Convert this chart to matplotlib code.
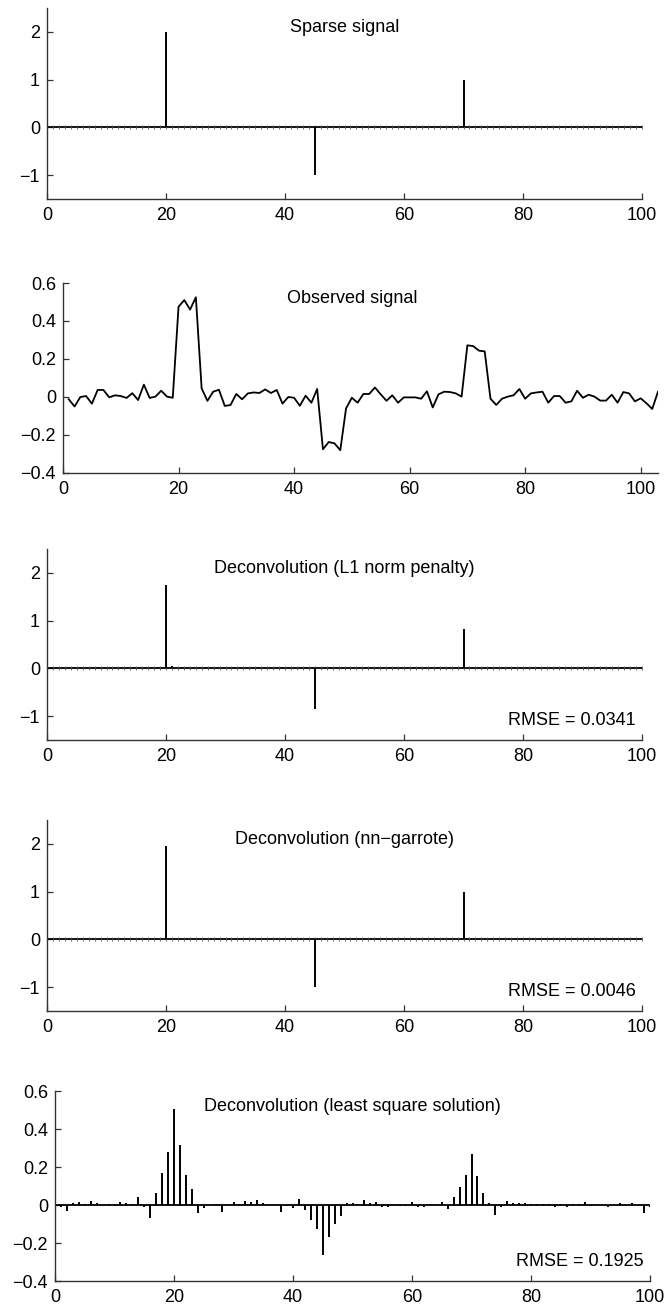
import numpy as np
import matplotlib
matplotlib.use("Agg")
import matplotlib.pyplot as plt

plt.rcParams['font.family'] = ['Liberation Sans', 'DejaVu Sans']

# ---------------- data ----------------
n_sparse = 100
sparse_idx = [20, 45, 70]
sparse_val = [2.0, -1.0, 1.0]

observed = [
    -0.012, -0.05, 0.0, 0.005, -0.035, 0.037, 0.037, -0.002, 0.009, 0.005,
    -0.005, 0.02, -0.016, 0.065, -0.005, 0.002, 0.033, 0.002, -0.004, 0.475,
    0.51, 0.46, 0.525, 0.045, -0.02, 0.028, 0.038, -0.047, -0.042, 0.016,
    -0.012, 0.019, 0.024, 0.021, 0.04, 0.021, 0.037, -0.035, 0.0, -0.004,
    -0.046, 0.007, -0.03, 0.042, -0.275, -0.237, -0.244, -0.28, -0.06, -0.004,
    -0.03, 0.016, 0.016, 0.05, 0.014, -0.02, 0.009, -0.03, -0.002, -0.002,
    -0.002, -0.009, 0.03, -0.055, 0.014, 0.028, 0.026, 0.019, 0.002, 0.272,
    0.268, 0.244, 0.24, -0.009, -0.042, -0.009, 0.002, 0.009, 0.042, -0.009,
    0.019, 0.024, 0.028, -0.03, 0.005, 0.005, -0.03, -0.023, 0.033, -0.004,
    0.012, 0.002, -0.019, -0.019, 0.012, -0.03, 0.026, 0.019, -0.023, -0.007,
    -0.033, -0.063, 0.028,
]

l1_idx = [20, 21, 45, 70]
l1_val = [1.74, 0.04, -0.85, 0.82]
l1_rmse = "RMSE = 0.0341"

garrote_idx = [20, 45, 70]
garrote_val = [1.95, -1.0, 1.0]
garrote_rmse = "RMSE = 0.0046"

lsq = [
    -0.009, -0.03, 0.009, 0.014, 0.004, 0.023, 0.009, -0.002, 0.004, -0.005,
    0.014, 0.009, 0.007, 0.042, -0.009, -0.07, 0.061, 0.167, 0.277, 0.507,
    0.318, 0.158, 0.082, -0.044, -0.016, 0.0, 0.004, -0.035, -0.002, 0.016,
    0.005, 0.021, 0.018, 0.026, 0.009, 0.002, 0.002, -0.035, -0.005, -0.016,
    0.033, -0.028, -0.079, -0.126, -0.263, -0.167, -0.1, -0.06, 0.009, 0.009,
    0.007, 0.026, 0.009, 0.018, -0.009, -0.009, -0.002, -0.003, -0.005, 0.014,
    -0.009, -0.009, 0.007, -0.002, 0.018, -0.023, 0.042, 0.096, 0.156, 0.267,
    0.153, 0.061, 0.009, -0.051, -0.009, 0.023, 0.009, 0.009, 0.012, 0.005,
    0.005, 0.004, 0.004, -0.009, 0.004, -0.009, 0.005, 0.005, 0.016, -0.005,
    0.0, 0.002, -0.012, 0.0, 0.009, 0.0, 0.011, 0.0, -0.044, -0.009,
]
lsq_rmse = "RMSE = 0.1925"

titles = ["Sparse signal", "Observed signal", "Deconvolution (L1 norm penalty)",
          "Deconvolution (nn\u2212garrote)", "Deconvolution (least square solution)"]

big_yticks = [-1, 0, 1, 2]
small_yticks = [-0.4, -0.2, 0, 0.2, 0.4, 0.6]
xticks = [0, 20, 40, 60, 80, 100]

# ---------------- layout ----------------
W, H = 667, 1313
fig = plt.figure(figsize=(W / 100, H / 100), dpi=100)

def ax_at(left, right, top, bottom):
    return fig.add_axes([left / W, 1 - bottom / H, (right - left) / W, (bottom - top) / H])

axes = [
    ax_at(47, 642, 8, 199),
    ax_at(63, 658, 283, 473),
    ax_at(47, 642, 549, 740),
    ax_at(47, 642, 820, 1011),
    ax_at(55, 650, 1091, 1281),
]

FS = 13
SPINE = '#333333'

def style(ax):
    for s in ['top', 'right']:
        ax.spines[s].set_visible(False)
    for s in ['left', 'bottom']:
        ax.spines[s].set_color(SPINE)
        ax.spines[s].set_linewidth(1.0)
    ax.tick_params(direction='in', length=4.5, width=0.9, color=SPINE,
                   labelsize=FS, pad=5)
    ax.tick_params(axis='x', pad=6)

def fmt(v):
    s = ("%g" % v)
    return s.replace('-', '\u2212')

def sparse_panel(ax, idx, val, title, rmse=None):
    xs = np.arange(1, n_sparse + 1)
    # baseline with zero stems texture
    ax.plot([0, n_sparse], [0, 0], color='black', lw=1.3, zorder=2)
    ax.plot(xs, np.zeros(n_sparse), ls='none', marker='|', ms=2.5, mew=0.6,
            color='#555555', zorder=2)
    ax.vlines(idx, 0, val, color='black', lw=1.4, zorder=3)
    ax.set_xlim(0, 100)
    ax.set_ylim(-1.5, 2.5)
    ax.set_xticks(xticks)
    ax.set_xticklabels([fmt(t) for t in xticks])
    ax.set_yticks(big_yticks)
    ax.set_yticklabels([fmt(t) for t in big_yticks])
    ax.text(50, 2.1, title, ha='center', va='center', fontsize=FS)
    if rmse:
        ax.text(99, -1.1, rmse, ha='right', va='center', fontsize=FS)
    style(ax)

sparse_panel(axes[0], sparse_idx, sparse_val, titles[0])

# observed
ax = axes[1]
xo = np.arange(1, len(observed) + 1)
ax.plot(xo, observed, color='black', lw=1.3)
ax.set_xlim(0, len(observed))
ax.set_ylim(-0.4, 0.6)
ax.set_xticks(xticks)
ax.set_xticklabels([fmt(t) for t in xticks])
ax.set_yticks(small_yticks)
ax.set_yticklabels([fmt(t) for t in small_yticks])
ax.text(50, 0.52, titles[1], ha='center', va='center', fontsize=FS)
style(ax)

sparse_panel(axes[2], l1_idx, l1_val, titles[2], l1_rmse)
sparse_panel(axes[3], garrote_idx, garrote_val, titles[3], garrote_rmse)

# least squares
ax = axes[4]
xl = np.arange(1, len(lsq) + 1)
ax.plot([0, 100], [0, 0], color='black', lw=1.3, zorder=2)
ax.vlines(xl, 0, lsq, color='black', lw=1.4, zorder=3)
ax.set_xlim(0, 100)
ax.set_ylim(-0.4, 0.6)
ax.set_xticks(xticks)
ax.set_xticklabels([fmt(t) for t in xticks])
ax.set_yticks(small_yticks)
ax.set_yticklabels([fmt(t) for t in small_yticks])
ax.text(50, 0.52, titles[4], ha='center', va='center', fontsize=FS)
ax.text(99, -0.3, lsq_rmse, ha='right', va='center', fontsize=FS)
style(ax)

fig.savefig("out.png", dpi=100)
